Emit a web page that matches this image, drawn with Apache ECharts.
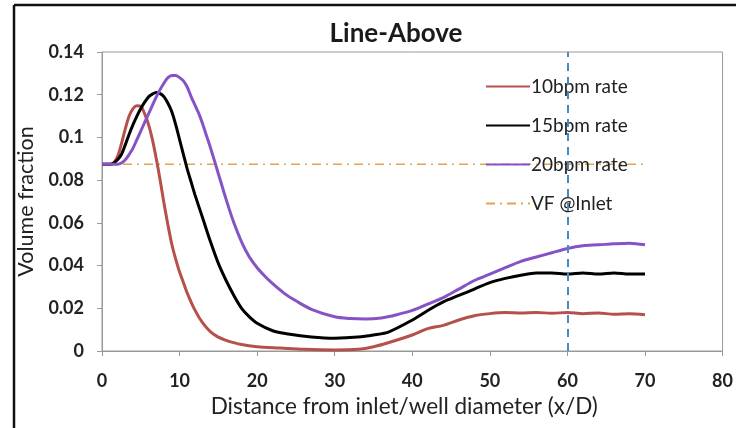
<!DOCTYPE html>
<html>
<head>
<meta charset="utf-8">
<script src="https://cdn.jsdelivr.net/npm/echarts@6/dist/echarts.min.js"></script>
<style>
	html, body { margin: 0; padding: 0; background: #fff; }
	#chart { width: 736px; height: 428px; }
</style>
</head>
<body>
<div id="chart"></div>
<script>
// x/D positions and volume fraction for each flow rate
var x10 = [0, 1.2, 1.5, 2, 2.5, 3, 3.5, 4, 4.5, 5, 5.5, 6, 6.5, 7, 7.5, 8, 8.5, 9, 9.5, 10, 10.5, 11, 12, 13, 14, 15, 16, 18, 20, 23, 26, 30, 33, 35, 37, 40, 42, 44, 46, 48, 50, 52, 54, 56, 58, 60, 62, 64, 66, 68, 70];
var vf10 = [0.0875, 0.0875, 0.088, 0.091, 0.097, 0.104, 0.110, 0.1135, 0.1148, 0.1145, 0.111, 0.106, 0.099, 0.090, 0.080, 0.069, 0.059, 0.050, 0.043, 0.037, 0.032, 0.027, 0.019, 0.013, 0.009, 0.0065, 0.005, 0.003, 0.002, 0.0014, 0.0008, 0.0005, 0.0008, 0.002, 0.004, 0.0075, 0.0105, 0.012, 0.0145, 0.0165, 0.0175, 0.018, 0.0178, 0.018, 0.0177, 0.018, 0.0175, 0.0178, 0.0172, 0.0175, 0.017];

var x15 = [0, 1, 1.5, 2, 2.5, 3, 3.5, 4, 4.5, 5, 5.5, 6, 6.5, 7, 7.5, 8, 8.5, 9, 9.5, 10, 10.5, 11, 11.5, 12, 13, 14, 15, 16, 17, 18, 19, 20, 22, 24, 27, 30, 33, 35, 37, 40, 42, 44, 46, 48, 50, 52, 54, 56, 58, 60, 62, 64, 66, 68, 70];
var vf15 = [0.0875, 0.0875, 0.088, 0.0895, 0.092, 0.0965, 0.1015, 0.106, 0.110, 0.1135, 0.1165, 0.119, 0.1203, 0.121, 0.1205, 0.119, 0.116, 0.112, 0.106, 0.099, 0.092, 0.085, 0.079, 0.073, 0.062, 0.051, 0.041, 0.033, 0.026, 0.020, 0.016, 0.013, 0.0095, 0.008, 0.0066, 0.006, 0.0065, 0.0075, 0.009, 0.0145, 0.019, 0.023, 0.026, 0.029, 0.032, 0.034, 0.0355, 0.0365, 0.0365, 0.036, 0.0365, 0.036, 0.0365, 0.036, 0.036];

var x20 = [0, 2, 2.5, 3, 3.5, 4, 4.5, 5, 5.5, 6, 6.5, 7, 7.5, 8, 8.5, 9, 9.5, 10, 10.5, 11, 11.5, 12, 12.5, 13, 13.5, 14, 15, 16, 17, 18, 19, 20, 21, 22, 23.5, 25, 27, 30, 32, 34, 36, 38, 40, 42, 44, 46, 48, 50, 52, 54, 56, 58, 60, 62, 64, 66, 68, 70];
var vf20 = [0.0875, 0.0875, 0.088, 0.0895, 0.092, 0.095, 0.099, 0.103, 0.107, 0.111, 0.115, 0.119, 0.1225, 0.1255, 0.128, 0.129, 0.129, 0.128, 0.1265, 0.1235, 0.119, 0.115, 0.111, 0.106, 0.1005, 0.095, 0.083, 0.071, 0.060, 0.051, 0.044, 0.039, 0.035, 0.0315, 0.027, 0.0235, 0.0195, 0.016, 0.0152, 0.015, 0.0155, 0.017, 0.019, 0.022, 0.025, 0.029, 0.033, 0.036, 0.039, 0.042, 0.044, 0.046, 0.048, 0.0493, 0.0497, 0.0502, 0.0505, 0.0497];

// inlet volume fraction reference
var xInlet = [0, 70];
var vfInlet = [0.0875, 0.0875];
var markX = 60;

var names = ['10bpm rate', '15bpm rate', '20bpm rate', 'VF @Inlet'];
var colors = ['#b5504b', '#000000', '#8553c6', '#e2a54e'];

function pairs(xs, ys) {
	return xs.map(function(x, i) { return [x, ys[i]]; });
}

var font = 'Lato, "Open Sans", sans-serif';

var chart = echarts.init(document.getElementById('chart'));
var option = {
	animation: false,
	textStyle: { fontFamily: font },
	title: {
		text: 'Line-Above',
		left: 391,
		top: 16,
		textAlign: 'center',
		textStyle: { fontFamily: font, fontSize: 26, fontWeight: 'bold', color: '#1a1a1a' }
	},
	legend: {
		orient: 'vertical',
		left: 480,
		top: 72,
		itemWidth: 44,
		itemHeight: 14,
		itemGap: 20,
		itemStyle: { color: 'transparent', borderWidth: 0 },
		textStyle: { fontFamily: font, fontSize: 19, color: '#222', padding: [0, 0, 0, -4] },
		data: names
	},
	graphic: [
		{ type: 'line', shape: { x1: 14, y1: 5, x2: 736, y2: 5 }, style: { stroke: '#111', lineWidth: 2.5 } },
		{ type: 'line', shape: { x1: 14, y1: 5, x2: 14, y2: 428 }, style: { stroke: '#111', lineWidth: 2.5 } }
	],
	grid: {
		left: 102,
		right: 12,
		top: 52,
		bottom: 77,
		show: true,
		borderColor: '#999',
		borderWidth: 1
	},
	xAxis: {
		type: 'value',
		min: 0,
		max: 80,
		interval: 10,
		name: 'Distance from inlet/well diameter (x/D)',
		nameLocation: 'middle',
		nameGap: 43,
		nameTextStyle: { fontFamily: font, fontSize: 22.5, color: '#222', padding: [0, 16, 0, 0] },
		axisLine: { lineStyle: { color: '#999' } },
		axisTick: { show: true, length: 5, lineStyle: { color: '#999' } },
		axisLabel: { margin: 21, fontFamily: font, fontSize: 18, fontWeight: 'bold', color: '#222' },
		splitLine: { show: false }
	},
	yAxis: {
		type: 'value',
		min: 0,
		max: 0.14,
		interval: 0.02,
		name: 'Volume fraction',
		nameLocation: 'middle',
		nameGap: 64,
		nameTextStyle: { fontFamily: font, fontSize: 21.5, color: '#222' },
		axisLine: { show: true, lineStyle: { color: '#999' } },
		axisTick: { show: true, length: 5, lineStyle: { color: '#999' } },
		axisLabel: {
			margin: 18,
			fontFamily: font,
			fontSize: 18,
			fontWeight: 'bold',
			color: '#222',
			formatter: function(v) { return String(+v.toFixed(2)); }
		},
		splitLine: { show: false }
	},
	series: [
		{
			name: names[0], type: 'line', smooth: 0.3, symbol: 'none',
			lineStyle: { color: colors[0], width: 3 }, itemStyle: { color: colors[0] },
			data: pairs(x10, vf10)
		},
		{
			name: names[1], type: 'line', smooth: 0.3, symbol: 'none',
			lineStyle: { color: colors[1], width: 3 }, itemStyle: { color: colors[1] },
			data: pairs(x15, vf15)
		},
		{
			name: names[2], type: 'line', smooth: 0.3, symbol: 'none',
			lineStyle: { color: colors[2], width: 3 }, itemStyle: { color: colors[2] },
			data: pairs(x20, vf20)
		},
		{
			name: names[3], type: 'line', symbol: 'none', z: 1,
			lineStyle: { color: colors[3], width: 1.5, type: [9, 5, 2, 5] }, itemStyle: { color: colors[3] },
			data: pairs(xInlet, vfInlet),
			markLine: {
				silent: true,
				symbol: 'none',
				label: { show: false },
				lineStyle: { color: '#4a89c2', width: 2, type: [8, 6] },
				data: [{ xAxis: markX }]
			}
		}
	]
};
chart.setOption(option);
</script>
</body>
</html>
